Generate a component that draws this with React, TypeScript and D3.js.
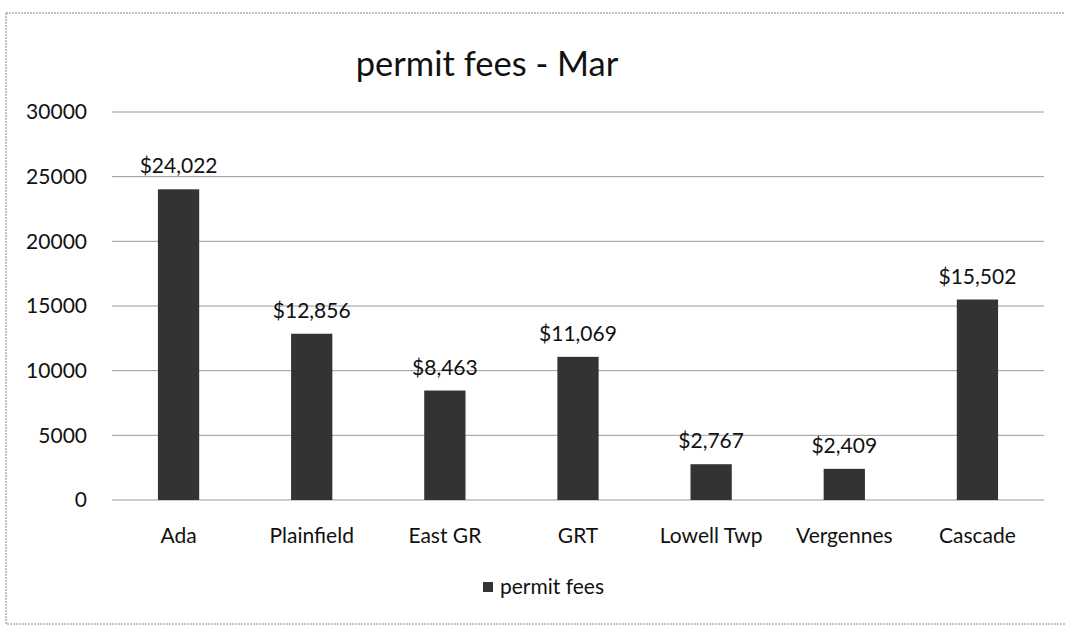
import React from "react";
import * as d3 from "d3";

const categories = ["Ada", "Plainfield", "East GR", "GRT", "Lowell Twp", "Vergennes", "Cascade"];
const permitFees = [24022, 12856, 8463, 11069, 2767, 2409, 15502];
const yTicks = [0, 5000, 10000, 15000, 20000, 25000, 30000];
const title = "permit fees - Mar";
const seriesName = "permit fees";

export default function App() {
  const W = 1065, H = 629;
  const left = 112, right = 1044, top = 112, bottom = 500;
  const x = d3.scaleBand<string>().domain(categories).range([left, right]).paddingInner(0.69).paddingOuter(0.345);
  const y = d3.scaleLinear().domain([0, 30000]).range([bottom, top]);
  const fmt = (v: number) => "$" + d3.format(",")(v);
  const font = "Lato, 'Open Sans', sans-serif";
  return (
    <svg width={W} height={H} style={{ position: "absolute", left: 0, top: 0, background: "#fff" }} fontFamily={font}>
      <rect x={6} y={13} width={1070} height={611} fill="none" stroke="#888" strokeWidth={1} strokeDasharray="2,1" />
      <text x={487} y={76} textAnchor="middle" fontSize={34.5} fill="#111">{title}</text>
      {yTicks.map((t) => (
        <g key={t}>
          <line x1={left} x2={right} y1={y(t)} y2={y(t)} stroke="#9a9a9a" strokeWidth={1} />
          <text x={87} y={y(t)} dy="0.35em" textAnchor="end" fontSize={21} fill="#111">{t}</text>
        </g>
      ))}
      {categories.map((c, i) => {
        const v = permitFees[i];
        const bx = x(c)!;
        const cx = bx + x.bandwidth() / 2;
        return (
          <g key={c}>
            <rect x={bx} y={y(v)} width={x.bandwidth()} height={y(0) - y(v)} fill="#333" />
            <text x={cx} y={y(v) - 16} textAnchor="middle" fontSize={21} fill="#111">{fmt(v)}</text>
            <text x={cx} y={bottom + 43} textAnchor="middle" fontSize={21} fill="#111">{c}</text>
          </g>
        );
      })}
      <rect x={483} y={582} width={10} height={10} fill="#333" />
      <text x={500} y={587} dy="0.35em" fontSize={21} fill="#111">{seriesName}</text>
    </svg>
  );
}
